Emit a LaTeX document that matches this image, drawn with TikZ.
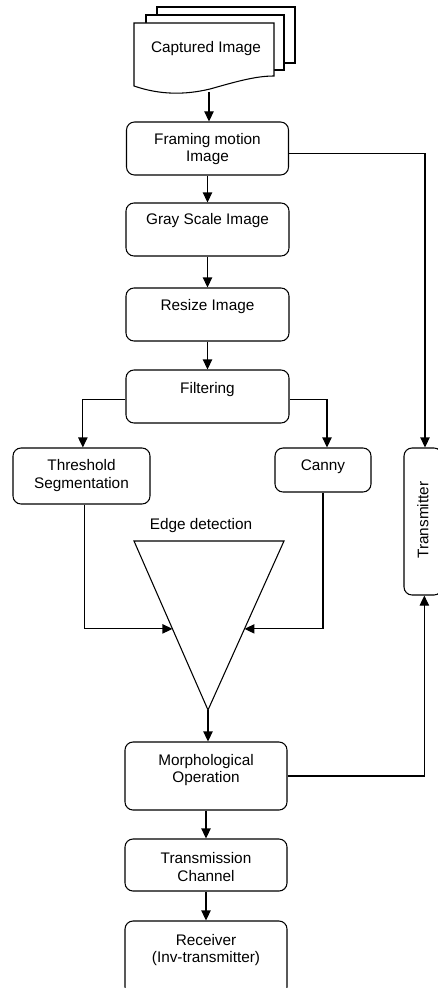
\documentclass[tikz,border=0pt]{standalone}
\usepackage{fontspec}
\setmainfont{Liberation Sans}
\usetikzlibrary{arrows.meta}

\tikzset{
  procbox/.style={draw, rounded corners=6pt, line width=0.8pt, inner sep=0pt, fill=white},
  lbl/.style={font=\fontsize{11.5}{13}\selectfont, align=center, inner sep=0.75pt},
  arr/.style={line width=0.8pt, -{Triangle[length=7.5pt,width=7pt]}},
  conn/.style={line width=0.8pt},
}

\begin{document}
\begin{tikzpicture}[x=0.75pt,y=0.75pt,yscale=-1,xscale=1]
        \useasboundingbox (0,0) rectangle (438,988);
        % Multidocument
        \draw [conn, fill=white] (157,7) -- (295,7) -- (295,63) -- (157,63) -- cycle ;
        \draw [conn, fill=white] (146,15) -- (284,15) -- (284,70) -- (146,70) -- cycle ;
        \draw [conn, fill=white] (134,23) -- (274,23) -- (274,76) .. controls (255,76) and (235,82) .. (210,89) .. controls (185,95) and (160,95) .. (134,86) -- cycle ;
        % Text Node
        \draw (206,49) node (captured) [lbl] {Captured Image};
        \coordinate (capbot) at (209,92);
        % Rounded Rect
        \draw (207.5,148.5) node (framing) [procbox, minimum width=121.5pt, minimum height=39.75pt] {};
        % Text Node
        \draw (207.5,149) node (framingtxt) [lbl] {Framing motion\\Image};
        % Rounded Rect
        \draw (207.5,229.5) node (gray) [procbox, minimum width=122.25pt, minimum height=39.75pt] {};
        % Text Node
        \draw (207.5,221) node (graytxt) [lbl] {Gray Scale Image};
        % Rounded Rect
        \draw (207.5,314.5) node (resize) [procbox, minimum width=122.25pt, minimum height=39.75pt] {};
        % Text Node
        \draw (207.5,307) node (resizetxt) [lbl] {Resize Image};
        % Rounded Rect
        \draw (207.5,396.5) node (filter) [procbox, minimum width=122.25pt, minimum height=39.75pt] {};
        % Text Node
        \draw (207.5,390) node (filtertxt) [lbl] {Filtering};
        % Rounded Rect
        \draw (81.5,476) node (thresh) [procbox, minimum width=102.75pt, minimum height=42pt] {};
        % Text Node
        \draw (81.5,475.5) node (threshtxt) [lbl] {Threshold\\Segmentation};
        % Rounded Rect
        \draw (323,470) node (canny) [procbox, minimum width=72pt, minimum height=33pt] {};
        % Text Node
        \draw (323,467) node (cannytxt) [lbl] {Canny};
        % Rounded Rect
        \draw (423,521.5) node (trans) [procbox, minimum width=28.5pt, minimum height=110.25pt] {};
        % Text Node
        \draw (423,520) node (transtxt) [lbl, rotate=90] {Transmitter};
        % Triangle
        \coordinate (triL) at (134,541);
        \coordinate (triR) at (284,541);
        \coordinate (apex) at (208,710);
        \draw [conn] (triL) -- (triR) -- (apex) -- cycle ;
        \path (triL) -- (apex) coordinate [pos=0.52] (edgeL);
        \path (triR) -- (apex) coordinate [pos=0.52] (edgeR);
        % Text Node
        \draw (201,526) node (edgetxt) [lbl] {Edge detection};
        % Rounded Rect
        \draw (206,776) node (morph) [procbox, minimum width=121.5pt, minimum height=51pt] {};
        % Text Node
        \draw (206,770) node (morphtxt) [lbl] {Morphological\\Operation};
        % Rounded Rect
        \draw (206,865) node (channel) [procbox, minimum width=121.5pt, minimum height=39pt] {};
        % Text Node
        \draw (206,867) node (channeltxt) [lbl] {Transmission\\Channel};
        % Rounded Rect
        \draw (206,958) node (recv) [procbox, minimum width=121.5pt, minimum height=55.5pt] {};
        % Text Node
        \draw (206,950) node (recvtxt) [lbl] {Receiver\\(Inv-transmitter)};
        % Connection
        \draw [arr] (capbot) -- (capbot |- framing.north) ;
        \draw [arr] (framing) -- (gray) ;
        \draw [arr] (gray) -- (resize) ;
        \draw [arr] (resize) -- (filter) ;
        \draw [arr] ([yshift=2pt]filter.west) -| ([xshift=1pt]thresh.north) ;
        \draw [arr] ([yshift=2pt]filter.east) -| ([xshift=3pt]canny.north) ;
        \draw [arr] ([xshift=2pt]thresh.south) |- (edgeL) ;
        \draw [arr] (canny.south) |- (edgeR) ;
        \draw [arr] (apex) -- (apex |- morph.north) ;
        \draw [arr] (morph) -- (channel) ;
        \draw [arr] (channel) -- (recv) ;
        \draw [arr] ([yshift=4pt]framing.east) -| ([xshift=1.5pt]trans.north) ;
        \draw [arr] (morph.east) -| ([xshift=1pt]trans.south) ;
    \end{tikzpicture}
\end{document}
